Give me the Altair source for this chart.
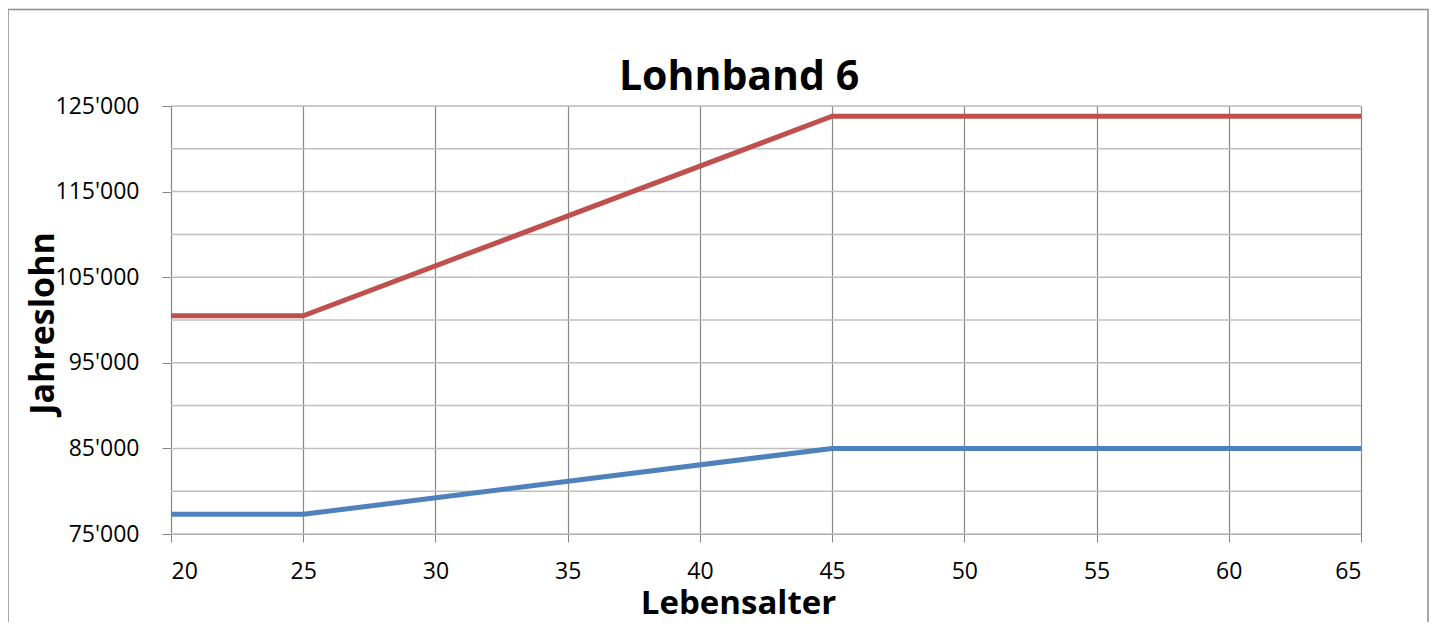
import altair as alt
import pandas as pd

# Data
ages = [20, 25, 45, 65]
lohn_min = [77300, 77300, 85000, 85000]
lohn_max = [100500, 100500, 123800, 123800]
series_names = ["Min", "Max"]
x_ticks = [20, 25, 30, 35, 40, 45, 50, 55, 60, 65]
y_ticks = [75000, 85000, 95000, 105000, 115000, 125000]
y_grid = [75000, 80000, 85000, 90000, 95000, 100000, 105000, 110000, 115000, 120000, 125000]

df = pd.DataFrame({
    "Lebensalter": ages + ages,
    "Jahreslohn": lohn_min + lohn_max,
    "Serie": [series_names[0]] * len(ages) + [series_names[1]] * len(ages),
})
grid_df = pd.DataFrame({"Jahreslohn": y_grid})

FONT = "Open Sans"
GRID_DARK = "#868686"
GRID_LIGHT = "#bfbfbf"

xscale = alt.Scale(domain=[20, 65], nice=False, zero=False)
yscale = alt.Scale(domain=[75000, 125000], nice=False, zero=False)

yaxis = alt.Axis(
    values=y_ticks, grid=False, title="Jahreslohn",
    labelExpr="replace(format(datum.value, ','), ',', \"'\")",
    tickSize=9, tickColor=GRID_DARK, domainColor=GRID_DARK,
    labelPadding=23, labelFontSize=23, labelFont=FONT, labelColor="#000000",
    titleFontSize=34, titleFont=FONT, titleFontWeight="bold", titleColor="#000000",
    titleAngle=270, titleX=-118, titleY=217, titleAlign="center", titleBaseline="alphabetic",
)
xaxis = alt.Axis(
    values=x_ticks, grid=True, gridColor=GRID_DARK, gridWidth=1.2, title="Lebensalter",
    tickSize=8, tickColor=GRID_DARK, domainColor=GRID_DARK,
    labelPadding=18, labelFontSize=23, labelFont=FONT, labelColor="#000000",
    titleFontSize=33, titleFont=FONT, titleFontWeight="bold", titleColor="#000000",
    titleX=567, titleY=79, titleAlign="center", titleBaseline="alphabetic",
)

frame = alt.Chart(pd.DataFrame({"f": [0]})).mark_rect(
    fillOpacity=0, stroke="#8c8c8c", strokeWidth=1.5
).encode(
    x=alt.value(-163), x2=alt.value(1257), y=alt.value(-96.5), y2=alt.value(540)
)

hgrid = alt.Chart(grid_df).mark_rule(color=GRID_LIGHT, strokeWidth=1.5).encode(
    y=alt.Y("Jahreslohn:Q", scale=yscale, axis=yaxis)
)

lines = alt.Chart(df).mark_line(strokeWidth=5, strokeCap="butt").encode(
    x=alt.X("Lebensalter:Q", scale=xscale, axis=xaxis),
    y=alt.Y("Jahreslohn:Q", scale=yscale, axis=yaxis),
    color=alt.Color("Serie:N", scale=alt.Scale(domain=series_names, range=["#4F81BD", "#C0504D"]), legend=None),
)

chart = alt.layer(frame, hgrid, lines).properties(
    width=1190, height=428,
    title=alt.TitleParams("Lohnband 6", font=FONT, fontSize=41, fontWeight="bold", color="#000000",
                          anchor="middle", frame="group", dx=-27, dy=138, offset=16, baseline="alphabetic"),
    padding={"left": 163, "top": 98, "right": 68, "bottom": 88},
    autosize="none",
).configure_view(stroke=None).configure(background="#ffffff")

chart.save("out.html", embed_options={"renderer": "svg", "actions": False})
